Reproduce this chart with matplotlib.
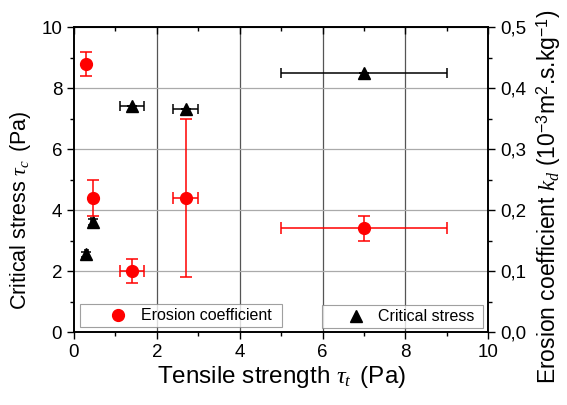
import matplotlib
matplotlib.use("Agg")
import matplotlib.pyplot as plt
from matplotlib.ticker import MultipleLocator, FuncFormatter

plt.rcParams['font.family'] = ['Liberation Sans', 'DejaVu Sans']
plt.rcParams['mathtext.fontset'] = 'custom'
plt.rcParams['mathtext.rm'] = 'Liberation Sans'
plt.rcParams['mathtext.it'] = 'Liberation Serif:italic'

# tensile strength (Pa) and its spread
tensile = [0.3, 0.45, 1.4, 2.7, 7.0]
tensile_lo = [0.04, 0.04, 0.3, 0.3, 2.0]
tensile_hi = [0.04, 0.04, 0.3, 0.3, 2.0]

# critical stress (Pa)
crit_stress = [2.55, 3.6, 7.4, 7.3, 8.5]
crit_err = [0.08, 0.1, 0.0, 0.0, 0.0]

# erosion coefficient (1e-3 m2.s/kg)
kd = [0.44, 0.22, 0.10, 0.22, 0.17]
kd_lo = [0.02, 0.03, 0.02, 0.13, 0.02]
kd_hi = [0.02, 0.03, 0.02, 0.13, 0.02]
kd_xlo = [0.0, 0.0, 0.3, 0.3, 2.0]

fig = plt.figure(figsize=(5.67, 4.05), dpi=100)
ax = fig.add_axes([0.1305, 0.180, 0.7305, 0.753])
ax2 = ax.twinx()

ax.set_xlim(0, 10)
ax.set_ylim(0, 10)
ax2.set_ylim(0, 0.5)

ax.xaxis.set_major_locator(MultipleLocator(2))
ax.xaxis.set_minor_locator(MultipleLocator(1))
ax.yaxis.set_major_locator(MultipleLocator(2))
ax.yaxis.set_minor_locator(MultipleLocator(1))
ax2.yaxis.set_major_locator(MultipleLocator(0.1))
ax2.yaxis.set_minor_locator(MultipleLocator(0.05))
ax2.yaxis.set_major_formatter(FuncFormatter(lambda v, p: ("%.1f" % v).replace(".", ",")))

# gridlines: vertical darker than horizontal
ax.set_axisbelow(True)
for xv in [2, 4, 6, 8]:
    ax.axvline(xv, color="#555555", lw=0.9, zorder=0)
for yv in [2, 4, 6, 8]:
    ax.axhline(yv, color="#aaaaaa", lw=0.9, zorder=0)

ax.tick_params(which="both", direction="out", labelsize=13.5, width=1.0, top=False)
ax.tick_params(which="major", length=5)
ax.tick_params(which="minor", length=3)
ax2.tick_params(which="both", direction="out", labelsize=13.5, width=1.0)
ax2.tick_params(which="major", length=5)
ax2.tick_params(which="minor", length=3)

# inward ticks along the top spine
top = ax.secondary_xaxis("top")
top.xaxis.set_major_locator(MultipleLocator(2))
top.xaxis.set_minor_locator(MultipleLocator(1))
top.tick_params(which="both", direction="in", labeltop=False, width=1.0)
top.tick_params(which="major", length=5)
top.tick_params(which="minor", length=3)

for a in (ax, ax2):
    for s in a.spines.values():
        s.set_linewidth(1.2)

black = ax.errorbar(tensile, crit_stress, xerr=[tensile_lo, tensile_hi], yerr=crit_err,
                    fmt="^", color="black", ms=8, ecolor="black", elinewidth=1.1,
                    capsize=3.5, capthick=1.1, label="Critical stress", zorder=3)
red = ax2.errorbar(tensile, kd, xerr=[kd_xlo, kd_xlo], yerr=[kd_lo, kd_hi],
                   fmt="o", color="red", ms=8.5, ecolor="red", elinewidth=1.1,
                   capsize=4, capthick=1.1, label="Erosion coefficient", zorder=3)

ax.set_xlabel(r"Tensile strength $\tau_t\,$ (Pa)", fontsize=17.5, labelpad=2)
ax.set_ylabel(r"Critical stress $\tau_c\,$ (Pa)", fontsize=15.5)
ax.yaxis.set_label_coords(-0.10, 0.40)
ax2.set_ylabel(r"Erosion coefficient $k_d$ (10$^{-3}$m$^2$.s.kg$^{-1}$)", fontsize=16.5)
ax2.yaxis.set_label_coords(1.112, 0.443)

leg1 = ax2.legend(handles=[red[0]], labels=["Erosion coefficient"],
                  bbox_to_anchor=(0.0145, 0.0164, 0.4875, 0.07), mode="expand",
                  loc="lower left", fontsize=11.5, frameon=True, fancybox=False,
                  edgecolor="#888888", borderaxespad=0, handlelength=4.3,
                  handletextpad=-0.75, borderpad=0.25)
leg1.get_frame().set_linewidth(0.8)
ax2.add_artist(leg1)
leg2 = ax2.legend(handles=[black[0]], labels=["Critical stress"],
                  bbox_to_anchor=(0.598, 0.013, 0.389, 0.069), mode="expand",
                  loc="lower left", fontsize=11.5, frameon=True, fancybox=False,
                  edgecolor="#888888", borderaxespad=0, handlelength=3.8,
                  handletextpad=-0.5, borderpad=0.25)
leg2.get_frame().set_linewidth(0.8)

fig.savefig("out.png", dpi=100)
